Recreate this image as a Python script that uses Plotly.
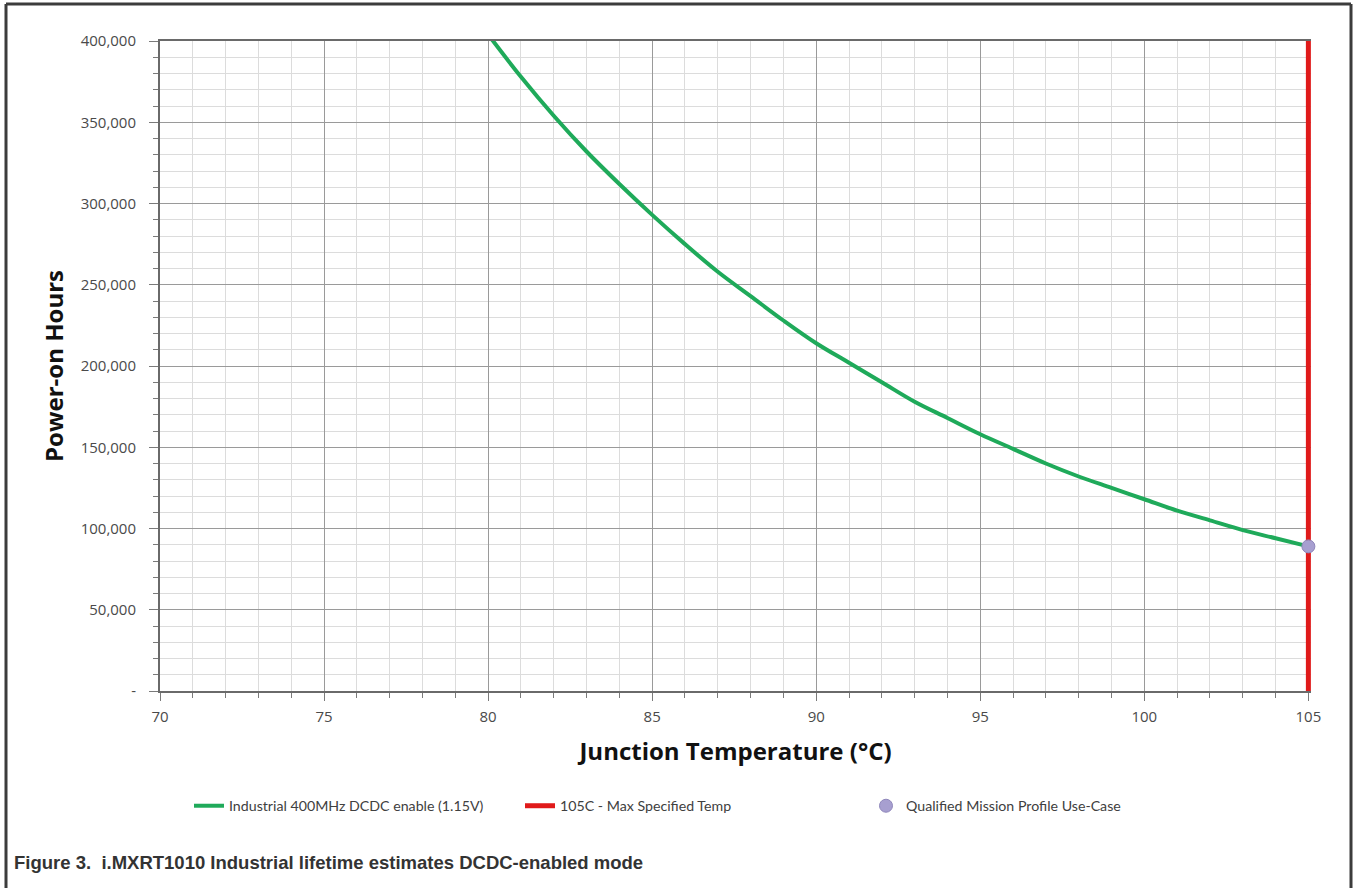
import plotly.graph_objects as go

# ---- data ----
temps = [80, 81, 82, 83, 84, 85, 86, 87, 88, 89, 90, 91, 92, 93, 94, 95,
         96, 97, 98, 99, 100, 101, 102, 103, 104, 105]
hours = [404000, 378000, 354000, 332000, 312000, 293000, 275000, 258000,
         243000, 228000, 214000, 202000, 190000, 178000, 168000, 158000,
         149000, 140000, 132000, 125000, 118000, 111000, 105000, 99000,
         94000, 89000]
max_temp_x = [105, 105]
max_temp_y = [0, 400000]
mission_x = [105]
mission_y = [89000]

x_ticks = [70, 75, 80, 85, 90, 95, 100, 105]
y_ticks = [0, 50000, 100000, 150000, 200000, 250000, 300000, 350000, 400000]
y_tick_text = ["-", "50,000", "100,000", "150,000", "200,000", "250,000",
               "300,000", "350,000", "400,000"]

series_names = ["Industrial 400MHz DCDC enable (1.15V)",
                "105C - Max Specified Temp",
                "Qualified Mission Profile Use-Case"]
caption = "Figure 3.  i.MXRT1010 Industrial lifetime estimates DCDC-enabled mode"

W, H = 1354, 888
ML, MR, MT, MB = 160, 43, 41, 197
PW, PH = W - ML - MR, H - MT - MB


def px(x):
    return (x - ML) / PW


def py(y):
    return (H - MB - y) / PH


fig = go.Figure()
fig.add_trace(go.Scatter(x=temps, y=hours, mode="lines", name=series_names[0],
                         line=dict(color="#1faa5a", width=4, shape="spline"),
                         legend="legend"))
fig.add_trace(go.Scatter(x=max_temp_x, y=max_temp_y, mode="lines", name=series_names[1],
                         line=dict(color="#e01a1a", width=5),
                         legend="legend2"))
fig.add_trace(go.Scatter(x=mission_x, y=mission_y, mode="markers", name=series_names[2],
                         marker=dict(color="#a79fd0", size=13,
                                     line=dict(color="#8f87bb", width=1)),
                         cliponaxis=False, legend="legend3"))

tick_font = dict(family="Open Sans", size=15, color="#4a4a4a")
title_font = dict(family="Open Sans", size=24, color="#111111")
leg_font = dict(family="Lato", size=14.2, color="#404040")

fig.update_layout(
    width=W, height=H,
    margin=dict(l=ML, r=MR, t=MT, b=MB),
    paper_bgcolor="white", plot_bgcolor="white",
    xaxis=dict(range=[70, 105.08], tickvals=x_ticks, showgrid=True,
               gridcolor="#9a9a9a", gridwidth=1,
               minor=dict(dtick=1, tick0=70, showgrid=True, gridcolor="#dcdcdc",
                          ticks="outside", ticklen=5, tickcolor="#7a7a7a"),
               ticks="outside", ticklen=8, tickcolor="#7a7a7a",
               showline=True, linecolor="#6a6a6a", linewidth=2, mirror=True,
               tickfont=tick_font, zeroline=False, ticklabelstandoff=3,
               title=dict(text="<b>Junction Temperature (°C)</b>", font=title_font,
                          standoff=18)),
    yaxis=dict(range=[0, 400000], tickvals=y_ticks, ticktext=y_tick_text,
               showgrid=True, gridcolor="#9a9a9a", gridwidth=1,
               minor=dict(dtick=10000, tick0=0, showgrid=True, gridcolor="#dcdcdc",
                          ticks="outside", ticklen=5, tickcolor="#7a7a7a"),
               ticks="outside", ticklen=9, tickcolor="#7a7a7a",
               showline=True, linecolor="#6a6a6a", linewidth=2,
               tickfont=tick_font, zeroline=False, ticklabelstandoff=10,
               title=dict(text="<b>Power-on Hours</b>", font=title_font, standoff=10)),
    legend=dict(x=px(189), y=py(806), xanchor="left", yanchor="middle",
                font=leg_font, bgcolor="rgba(0,0,0,0)", itemwidth=30),
    legend2=dict(x=px(520), y=py(806), xanchor="left", yanchor="middle",
                 font=leg_font, bgcolor="rgba(0,0,0,0)", itemwidth=30),
    legend3=dict(x=px(866), y=py(806), xanchor="left", yanchor="middle",
                 font=leg_font, bgcolor="rgba(0,0,0,0)", itemwidth=30),
    showlegend=True,
)

# outer frame of the figure
frame = dict(type="line", xref="paper", yref="paper",
             line=dict(color="#3c3c3c", width=3), layer="above")
fig.add_shape(**frame, x0=px(6), x1=px(6), y0=py(4), y1=py(900))
fig.add_shape(**frame, x0=px(6), x1=px(1351), y0=py(4), y1=py(4))
fig.add_shape(**frame, x0=px(1351), x1=px(1351), y0=py(4), y1=py(900))

fig.add_annotation(text="<b>" + caption + "</b>", xref="paper", yref="paper",
                   x=px(12), y=py(862), xanchor="left", yanchor="middle",
                   showarrow=False,
                   font=dict(family="Liberation Sans", size=18.5, color="#333333"))

fig.write_html("out.html", config={"displayModeBar": False},
               post_script="document.body.style.margin='0';"
                           "document.body.style.overflow='hidden';")
